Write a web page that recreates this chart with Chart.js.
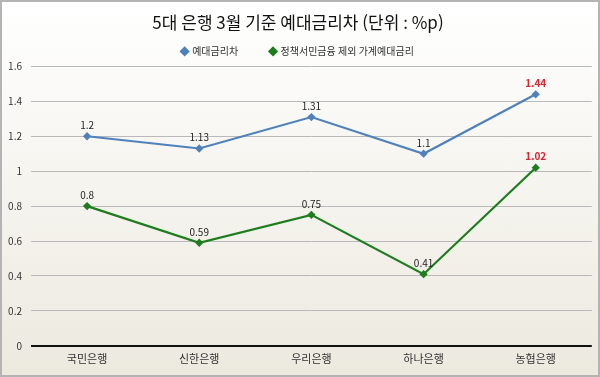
<!DOCTYPE html>
<html lang="ko">
<head>
  <meta charset="UTF-8" />
  <title>5대 은행 3월 기준 예대금리차</title>
  <script src="https://cdn.jsdelivr.net/npm/chart.js"></script>
  <style>
    html, body { margin: 0; padding: 0; }
    body { width: 600px; height: 377px; overflow: hidden; }
    .frame {
      box-sizing: border-box;
      width: 600px;
      height: 377px;
      border: 2px solid #b4b4b4;
      background: linear-gradient(to bottom, #ffffff 0%, #f6f5f0 45%, #ece9df 100%);
    }
  </style>
</head>
<body>
  <div class="frame">
    <canvas id="chart" width="596" height="373"></canvas>
  </div>

  <script>
  const banks = ["국민은행", "신한은행", "우리은행", "하나은행", "농협은행"];
  const spreadAll = [1.2, 1.13, 1.31, 1.1, 1.44];        // 예대금리차
  const spreadHousehold = [0.8, 0.59, 0.75, 0.41, 1.02]; // 정책서민금융 제외 가계예대금리
  const yTicks = [0, 0.2, 0.4, 0.6, 0.8, 1, 1.2, 1.4, 1.6];

  const fontKR = "'Noto Sans CJK KR', 'Noto Sans', sans-serif";

  // 값 라벨 (마지막 은행은 빨간 굵은 글씨)
  const valueLabels = {
    id: "valueLabels",
    afterDatasetsDraw(chart) {
      const ctx = chart.ctx;
      ctx.save();
      ctx.textAlign = "center";
      ctx.textBaseline = "bottom";
      chart.data.datasets.forEach((ds, i) => {
        chart.getDatasetMeta(i).data.forEach((pt, j) => {
          const last = j === ds.data.length - 1;
          ctx.fillStyle = last ? "#d9232e" : "#222";
          ctx.font = (last ? "bold " : "") + "10px " + fontKR;
          ctx.fillText(String(ds.data[j]), pt.x, pt.y - 6);
        });
      });
      ctx.restore();
    }
  };

  new Chart(document.getElementById("chart"), {
    type: "line",
    data: {
      labels: banks,
      datasets: [
        {
          label: "예대금리차          ",
          data: spreadAll,
          borderColor: "#4f81bd",
          backgroundColor: "#4f81bd",
          borderWidth: 2.2,
          pointStyle: "rectRot",
          pointRadius: 2.6,
          tension: 0
        },
        {
          label: "정책서민금융 제외 가계예대금리",
          data: spreadHousehold,
          borderColor: "#1e7d1e",
          backgroundColor: "#1e7d1e",
          borderWidth: 2.2,
          pointStyle: "rectRot",
          pointRadius: 2.6,
          tension: 0
        }
      ]
    },
    options: {
      responsive: false,
      animation: false,
      layout: { padding: { left: 0, right: 4, top: 6, bottom: 4 } },
      plugins: {
        title: {
          display: true,
          text: "5대 은행 3월 기준 예대금리차 (단위 : %p)",
          color: "#111",
          font: { family: fontKR, size: 17, weight: "normal" },
          padding: { top: 4, bottom: 4 }
        },
        legend: {
          labels: {
            usePointStyle: true,
            pointStyle: "rectRot",
            boxWidth: 5,
            boxHeight: 5,
            color: "#333",
            font: { family: fontKR, size: 10 },
            padding: 10
          }
        },
        tooltip: { enabled: false }
      },
      scales: {
        x: {
          offset: true,
          grid: { display: false, drawTicks: false },
          border: { display: false },
          ticks: { color: "#333", font: { family: fontKR, size: 11 }, padding: 6 }
        },
        y: {
          min: 0,
          max: 1.6,
          afterFit(scale) { scale.width = 29; },
          afterBuildTicks(scale) { scale.ticks = yTicks.map(v => ({ value: v })); },
          grid: {
            color: ctx => ctx.tick && ctx.tick.value === 0 ? "#111" : "#b9b9b9",
            lineWidth: ctx => ctx.tick && ctx.tick.value === 0 ? 2 : 1,
            drawTicks: false
          },
          border: { display: false },
          ticks: {
            color: "#333",
            font: { family: fontKR, size: 10 },
            padding: 9,
            callback: v => String(v)
          }
        }
      }
    },
    plugins: [valueLabels]
  });
  </script>
</body>
</html>
